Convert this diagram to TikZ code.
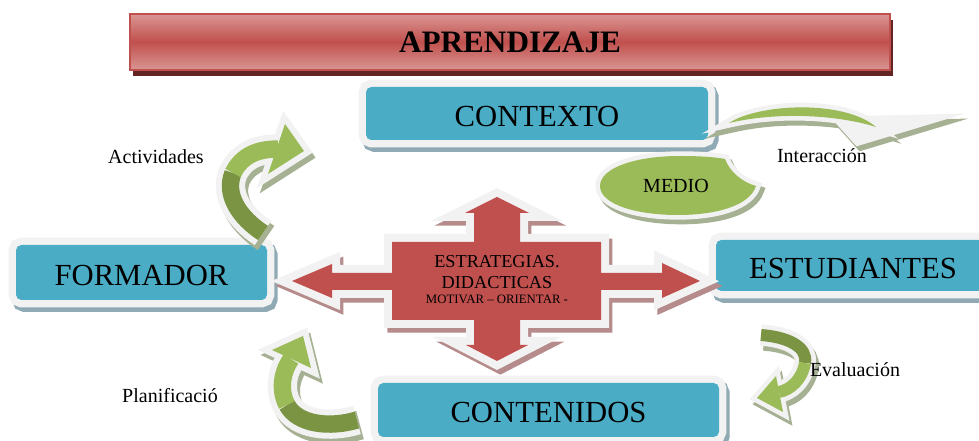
\documentclass[tikz,border=0pt]{standalone}
\usepackage{fontspec}
\setmainfont{Liberation Serif}
\definecolor{boxblue}{RGB}{75,172,198}
\definecolor{boxshade}{RGB}{143,170,180}
\definecolor{rim}{RGB}{242,242,242}
\definecolor{stratred}{RGB}{192,80,77}
\definecolor{stratshade}{RGB}{181,139,139}
\definecolor{leafgreen}{RGB}{155,187,89}
\definecolor{darkleaf}{RGB}{122,148,67}
\definecolor{leafshade}{RGB}{166,176,146}
\definecolor{titlelight}{RGB}{218,150,148}
\definecolor{titleshade}{RGB}{99,37,35}
\tikzset{
  raised/.style 2 args={preaction={fill=#1, draw=#1, line width=#2, transform canvas={xshift=2.5pt,yshift=-3.5pt}},
    preaction={draw=rim, line width=#2}},
  topic/.style={fill=boxblue, rounded corners=4pt, inner sep=0pt, text height=19pt,
    font=\fontsize{23}{23}\selectfont, raised={boxshade}{11pt}},
  remark/.style={font=\fontsize{15}{15}\selectfont},
}

\begin{document}
\begin{tikzpicture}[x=0.75pt,y=-0.75pt]
\useasboundingbox (0,0) rectangle (979,441);
% title bar
\node[minimum width=570pt, minimum height=42pt, draw=stratred, line width=1.5pt,
  top color=titlelight, bottom color=titlelight, middle color=stratred,
  preaction={fill=titleshade, transform canvas={xshift=2pt,yshift=-4.5pt}},
  font=\bfseries\fontsize{23.4}{24}\selectfont] (title) at (510,42) {APRENDIZAJE};
% boxes
\node[topic, minimum width=256.5pt, minimum height=39.75pt] (context) at (537,113.5) {CONTEXTO};
\node[topic, minimum width=188.25pt, minimum height=41.25pt] (trainer) at (141.5,272.5) {FORMADOR};
\node[topic, minimum width=205.5pt, minimum height=38.25pt] (students) at (853,265.5) {ESTUDIANTES\hspace{10.5pt}};
\node[topic, minimum width=255.75pt, minimum height=40.5pt] (contents) at (548.5,410) {CONTENIDOS};
% medio
\path[fill=leafgreen, raised={leafshade}{7pt}] (600,186) .. controls (600,168) and (635,156) .. (680,156)
  .. controls (700,156) and (715,157) .. (725,159) .. controls (730,172) and (742,182) .. (756,186)
  .. controls (750,205) and (718,215) .. (678,215) .. controls (635,215) and (600,204) .. (600,186) -- cycle;
\node[font=\fontsize{15}{15}\selectfont] (medio) at (676,186) {MEDIO};
% estrategias
\path[fill=stratred, raised={stratshade}{12pt}] (497,197) -- (529,213) -- (520,213) -- (520,242) -- (601,242)
  -- (601,273) -- (662,273) -- (662,263) -- (700,281) -- (662,298) -- (662,290) -- (601,290) -- (601,320)
  -- (520,320) -- (520,345) -- (528,345) -- (497,361) -- (466,345) -- (474,345) -- (474,320) -- (392,320)
  -- (392,290) -- (332,290) -- (332,298) -- (292,281) -- (332,264) -- (332,273) -- (392,273) -- (392,242)
  -- (474,242) -- (474,213) -- (465,213) -- cycle;
\node[anchor=base, font=\fontsize{13.7}{14}\selectfont] (strat1) at (497,268) {ESTRATEGIAS.};
\node[anchor=base, font=\fontsize{13.7}{14}\selectfont] (strat2) at (497,289) {DIDACTICAS};
\node[anchor=base, font=\fontsize{9.6}{10}\selectfont] (strat3) at (497,304) {MOTIVAR – ORIENTAR -};
% green arrows: shadow and rim first
\foreach \col/\dx/\dy in {leafshade/3/5, rim/0/0} {
  \draw[\col, line width=22pt, shift={(\dx,\dy)}] (263,233) .. controls (240,218) and (224,195) .. (233,173)
    .. controls (242,155) and (258,149) .. (278,149);
  \filldraw[\col, line width=9pt, shift={(\dx,\dy)}] (285,124) -- (304,151) -- (268,174) -- cycle;
  \draw[\col, line width=22pt, shift={(\dx,\dy)}] (357,420) .. controls (330,428) and (298,425) .. (287,405)
    .. controls (279,390) and (282,372) .. (291,359);
  \filldraw[\col, line width=9pt, shift={(\dx,\dy)}] (272,350) -- (303,336) -- (311,368) -- cycle;
  \draw[\col, line width=16pt, shift={(\dx,\dy)}] (761,335) .. controls (788,337) and (808,347) .. (805,363)
    .. controls (802,380) and (790,390) .. (779,392);
  \filldraw[\col, line width=7pt, shift={(\dx,\dy)}] (776,376) -- (757,398) -- (783,412) -- cycle;
  \filldraw[\col, line width=7pt, shift={(\dx,\dy)}] (729,123) .. controls (760,103) and (845,100) .. (876,127)
    .. controls (845,117) and (785,110) .. (729,123) -- cycle;
  \filldraw[\col, line width=7pt, shift={(\dx,\dy)}] (840,121) -- (931,119) -- (858,141) -- cycle;
}
% actividades
\draw[darkleaf, line width=13pt] (263,233) .. controls (240,218) and (224,195) .. (233,173);
\draw[leafgreen, line width=13pt] (233,173) .. controls (242,155) and (258,149) .. (278,149);
\fill[leafgreen] (285,124) -- (304,151) -- (268,174) -- cycle;
% planificacion
\draw[darkleaf, line width=13pt] (357,420) .. controls (330,428) and (298,425) .. (287,405);
\draw[leafgreen, line width=13pt] (287,405) .. controls (279,390) and (282,372) .. (291,359);
\fill[leafgreen] (272,350) -- (303,336) -- (311,368) -- cycle;
% evaluacion
\draw[darkleaf, line width=9pt] (761,335) .. controls (788,337) and (808,347) .. (805,363);
\draw[leafgreen, line width=9pt] (805,363) .. controls (802,380) and (790,390) .. (779,392);
\fill[leafgreen] (776,376) -- (757,398) -- (783,412) -- cycle;
% interaccion
\fill[leafgreen] (729,123) .. controls (760,103) and (845,100) .. (876,127)
  .. controls (845,117) and (785,110) .. (729,123) -- cycle;
% labels
\node[remark] (activities) at (156,157) {Actividades};
\node[remark] (interaction) at (822,156) {Interacción};
\node[remark] (planning) at (170,396) {Planificació};
\node[remark] (evaluation) at (855,370) {Evaluación};
\end{tikzpicture}
\end{document}
